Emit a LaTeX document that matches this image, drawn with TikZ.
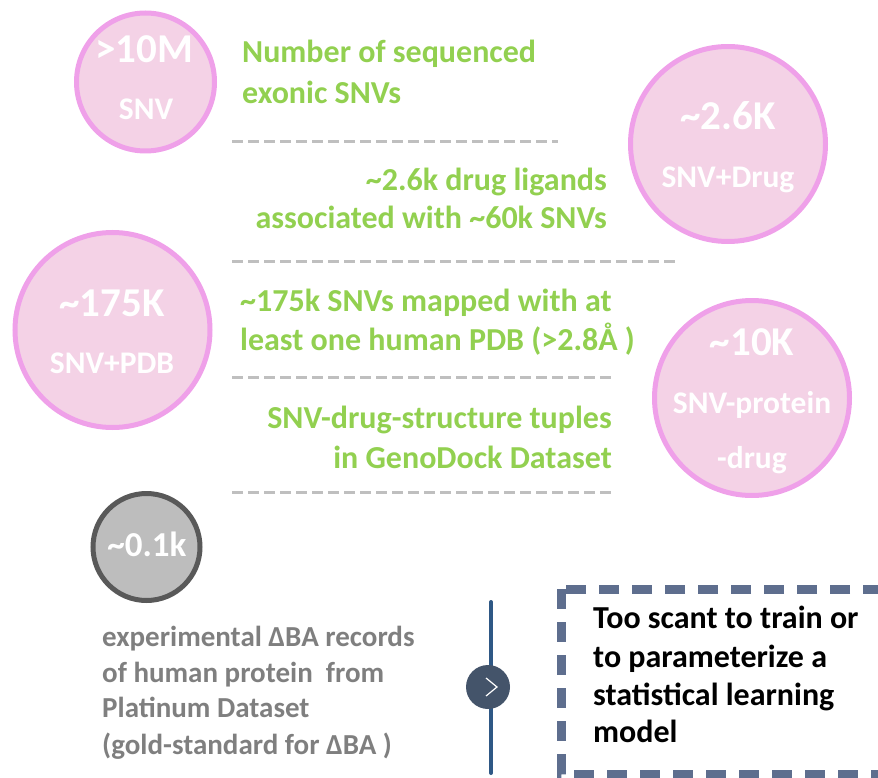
\documentclass[tikz,border=0pt]{standalone}
\usepackage{fontspec}
\setmainfont{Carlito}
\definecolor{pinkfill}{HTML}{F4D2E6}
\definecolor{pinkline}{HTML}{EFA0E9}
\definecolor{grn}{HTML}{92D050}
\definecolor{graytxt}{HTML}{7F7F7F}
\definecolor{sepgray}{HTML}{BFBFBF}
\definecolor{darkring}{HTML}{595959}
\definecolor{grayfill}{HTML}{BDBDBD}
\definecolor{slate}{HTML}{5E6E8E}
\definecolor{navyline}{HTML}{2F5885}
\definecolor{navydot}{HTML}{44546A}
\begin{document}
\begin{tikzpicture}[x=1pt,y=-1pt,
  pinkcirc/.style={circle,draw=pinkline,line width=5pt,fill=pinkfill,inner sep=0pt},
  bignum/.style={text=white,font=\fontsize{41}{44}\selectfont\bfseries,inner sep=0pt,anchor=base},
  smalllab/.style={text=white,font=\fontsize{31.5}{34}\selectfont\bfseries,inner sep=0pt,anchor=base},
  grnL/.style={text=grn,font=\fontsize{32}{36}\selectfont\bfseries,inner sep=0pt,anchor=base west},
  grnR/.style={text=grn,font=\fontsize{32}{36}\selectfont\bfseries,inner sep=0pt,anchor=base east},
  grayL/.style={text=graytxt,font=\fontsize{29}{33}\selectfont\bfseries,inner sep=0pt,anchor=base west},
  boxL/.style={text=black,font=\fontsize{32}{36}\selectfont\bfseries,inner sep=0pt,anchor=base west},
  sepline/.style={draw=sepgray,line width=3pt,dash pattern=on 11pt off 5pt}]
\useasboundingbox (0,0) rectangle (878,778);
\clip (0,0) rectangle (878,778);
% circles
\node[pinkcirc,minimum size=138pt] (c1) at (145.5,82) {};
\node[pinkcirc,minimum size=195pt] (c2) at (728,144) {};
\node[pinkcirc,minimum size=195pt] (c3) at (112.5,330) {};
\node[pinkcirc,minimum size=195pt] (c4) at (752,398) {};
\node[circle,draw=darkring,line width=5pt,fill=grayfill,minimum size=107pt,inner sep=0pt] (c5) at (146.5,547) {};
% circle labels
\node[bignum] (t1a) at (144,63) {>10M};
\node[smalllab] (t1b) at (146,120) {SNV};
\node[bignum] (t2a) at (728,130) {\textasciitilde2.6K};
\node[smalllab] (t2b) at (728,188) {SNV+Drug};
\node[bignum] (t3a) at (112,316) {\textasciitilde175K};
\node[smalllab] (t3b) at (112,373) {SNV+PDB};
\node[bignum] (t4a) at (752,355) {\textasciitilde10K};
\node[smalllab] (t4b) at (752,413) {SNV-protein};
\node[smalllab] (t4c) at (752,468) {-drug};
\node[bignum,font=\fontsize{35}{38}\selectfont\bfseries] (t5a) at (147,556) {\textasciitilde0.1k};
% green texts
\node[grnL] (g1a) at (242,63) {Number of sequenced};
\node[grnL] (g1b) at (242,104) {exonic SNVs};
\node[grnR] (g2a) at (607,191) {\textasciitilde2.6k drug ligands};
\node[grnR] (g2b) at (607,229) {associated with \textasciitilde60k SNVs};
\node[grnL] (g3a) at (240,311) {\textasciitilde175k SNVs mapped with at};
\node[grnL] (g3b) at (240,350) {least one human PDB (>2.8Å )};
\node[grnR] (g4a) at (612,428) {SNV-drug-structure tuples};
\node[grnR] (g4b) at (612,468) {in GenoDock Dataset};
% separators
\coordinate (s1a) at (232,142); \coordinate (s1b) at (558,142);
\coordinate (s2a) at (232,261); \coordinate (s2b) at (676,261);
\coordinate (s3a) at (232,377); \coordinate (s3b) at (612,377);
\coordinate (s4a) at (232,492); \coordinate (s4b) at (614,492);
\draw[sepline] (s1a) -- (s1b);
\draw[sepline] (s2a) -- (s2b);
\draw[sepline] (s3a) -- (s3b);
\draw[sepline] (s4a) -- (s4b);
% gray text
\node[grayL] (p1) at (102,646) {experimental ΔBA records};
\node[grayL] (p2) at (102,682) {of human protein\ \ from};
\node[grayL] (p3) at (102,717) {Platinum Dataset};
\node[grayL] (p4) at (102,754) {(gold-standard for ΔBA )};
% vertical line with chevron dot
\coordinate (vtop) at (491,602);
\coordinate (vbot) at (491,773);
\draw[navyline,line width=4pt,line cap=round] (vtop) -- (vbot);
\node[circle,fill=navydot,minimum size=44pt,inner sep=0pt] (dot) at (488,687) {};
\draw[white,line width=1.2pt] ([shift={(-2,-9)}]dot.center) -- ([shift={(9,0)}]dot.center) -- ([shift={(-2,9)}]dot.center);
% dashed box
\coordinate (bx1) at (561,589);
\coordinate (bx2) at (900,774);
\draw[slate,line width=9pt,dash pattern=on 20pt off 13pt] (bx1) rectangle (bx2);
\node[boxL] (b1) at (593,628) {Too scant to train or};
\node[boxL] (b2) at (593,667) {to parameterize a};
\node[boxL] (b3) at (593,705) {statistical learning};
\node[boxL] (b4) at (593,742) {model};
\end{tikzpicture}
\end{document}
